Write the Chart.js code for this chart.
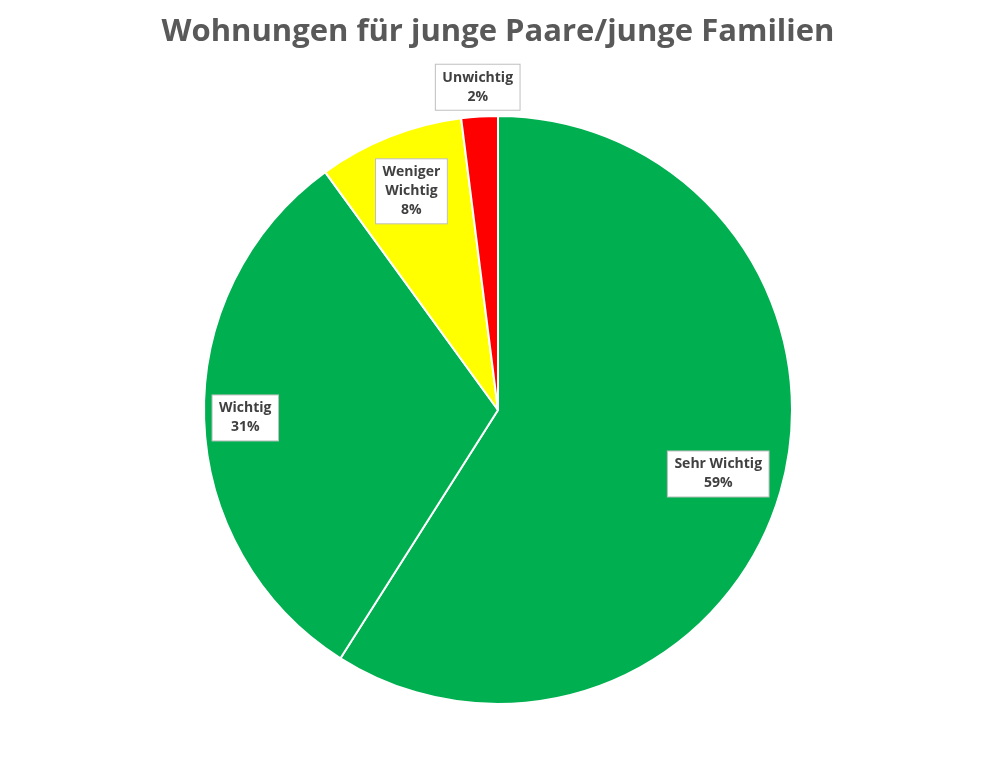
<!DOCTYPE html>
<html>
<head>
<meta charset="utf-8">
<script src="https://cdn.jsdelivr.net/npm/chart.js@4/dist/chart.umd.min.js"></script>
<style>
  html, body { margin: 0; background: #fff; }
  #wrap { width: 996px; height: 768px; }
</style>
</head>
<body>
<div id="wrap"><canvas id="pieChart" width="996" height="768"></canvas></div>
<script>
const chartTitle = 'Wohnungen für junge Paare/junge Familien';
const labels = ['Sehr Wichtig', 'Wichtig', 'Weniger Wichtig', 'Unwichtig'];
const values = [59, 31, 8, 2];
const colors = ['#00B050', '#00B050', '#FFFF00', '#FF0000'];
// label text lines and where to place each callout (fraction of radius)
const labelLines = [['Sehr Wichtig', '59%'], ['Wichtig', '31%'], ['Weniger', 'Wichtig', '8%'], ['Unwichtig', '2%']];
const labelRadius = [0.78, 0.86, 0.8, 1.1];

const calloutPlugin = {
    id: 'callouts',
    afterDraw(chart) {
        const ctx = chart.ctx;
        // title
        ctx.save();
        ctx.font = 'bold 31px "Open Sans", "Noto Sans", sans-serif';
        ctx.fillStyle = '#595959';
        ctx.textAlign = 'center';
        ctx.textBaseline = 'middle';
        ctx.fillText(chartTitle, chart.width / 2, 32);

        const meta = chart.getDatasetMeta(0);
        ctx.font = 'bold 14px "Open Sans", "Noto Sans", sans-serif';
        meta.data.forEach((arc, i) => {
            const mid = (arc.startAngle + arc.endAngle) / 2;
            const r = arc.outerRadius * labelRadius[i];
            const cx = arc.x + Math.cos(mid) * r;
            const cy = arc.y + Math.sin(mid) * r;
            const lines = labelLines[i];
            const lh = 19;
            const w = Math.max(...lines.map(l => ctx.measureText(l).width)) + 14;
            const h = lines.length * lh + 8;
            ctx.fillStyle = '#fff';
            ctx.strokeStyle = '#BFBFBF';
            ctx.lineWidth = 1;
            ctx.fillRect(cx - w / 2, cy - h / 2, w, h);
            ctx.strokeRect(cx - w / 2, cy - h / 2, w, h);
            ctx.fillStyle = '#404040';
            lines.forEach((l, j) => {
                ctx.fillText(l, cx, cy - h / 2 + 4 + lh * j + lh / 2);
            });
        });
        ctx.restore();
    }
};

new Chart(document.getElementById('pieChart').getContext('2d'), {
    type: 'pie',
    data: {
        labels: labels,
        datasets: [{
            data: values,
            backgroundColor: colors,
            borderColor: '#ffffff',
            borderWidth: 2,
        }],
    },
    options: {
        responsive: false,
        animation: false,
        layout: { padding: { top: 115, bottom: 63 } },
        plugins: {
            legend: { display: false },
            title: { display: false },
            tooltip: { enabled: false },
        },
    },
    plugins: [calloutPlugin],
});
</script>
</body>
</html>
